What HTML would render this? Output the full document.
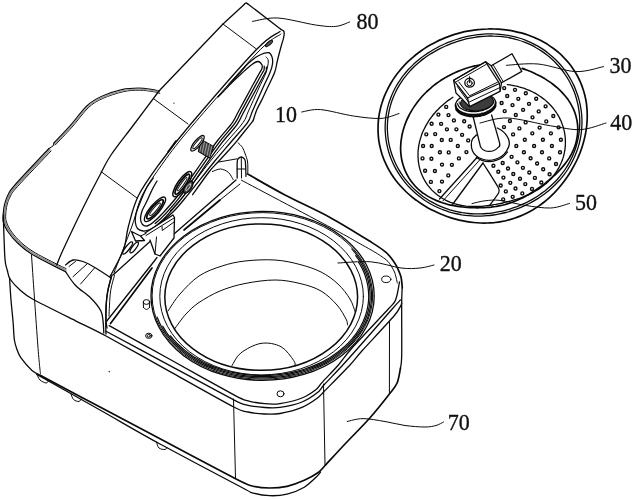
<!DOCTYPE html>
<html><head><meta charset="utf-8"><title>Figure</title>
<style>html,body{margin:0;padding:0;background:#fff}svg{display:block}</style></head>
<body><svg style="will-change:transform;filter:grayscale(1)" width="635" height="500" viewBox="0 0 635 500" font-family="'Liberation Serif', serif">
<rect width="635" height="500" fill="#fff"/>
<g fill="none" stroke="#0a0a0a" stroke-linecap="round" stroke-linejoin="round">
<text transform="translate(356.4 28.8) scale(1 1.085)" font-size="22" stroke="#111" stroke-width="0.35" fill="#111">80</text>
<text transform="translate(275 121.6) scale(1 1.085)" font-size="22" stroke="#111" stroke-width="0.35" fill="#111">10</text>
<text transform="translate(609.5 72.5) scale(1 1.085)" font-size="22" stroke="#111" stroke-width="0.35" fill="#111">30</text>
<text transform="translate(610.2 130.4) scale(1 1.085)" font-size="22" stroke="#111" stroke-width="0.35" fill="#111">40</text>
<text transform="translate(575 210) scale(1 1.085)" font-size="22" stroke="#111" stroke-width="0.35" fill="#111">50</text>
<text transform="translate(439.7 270.7) scale(1 1.085)" font-size="22" stroke="#111" stroke-width="0.35" fill="#111">20</text>
<text transform="translate(447.8 429.7) scale(1 1.085)" font-size="22" stroke="#111" stroke-width="0.35" fill="#111">70</text>
<path d="M158.6 91.4C157.6 91.1 156 90.2 152.6 89.7C149.2 89.2 143.4 88.2 138.3 88.2C133.2 88.2 128.1 88.3 121.9 89.7C115.8 91.1 107.2 93.8 101.4 96.5C95.6 99.2 92.2 100.9 87.1 105.7C82 110.5 76.2 119 70.7 125.2C65.2 131.4 56.8 140 54 143" stroke-width="1.3"/>
<path d="M159.8 93.4C158.8 93.1 157.2 92.2 153.8 91.7C150.4 91.2 144.6 90.2 139.5 90.2C134.4 90.2 129.2 90.3 123.1 91.7C117 93.1 108.4 95.8 102.6 98.5C96.8 101.2 93.4 102.9 88.3 107.7C83.2 112.5 77.4 121 71.9 127.2C66.4 133.4 58 142 55.2 145" stroke-width="1"/>
<path d="M159.2 92.4C158.2 92.1 156.6 91.2 153.2 90.7C149.8 90.2 144 89.2 138.9 89.2C133.8 89.2 128.7 89.3 122.5 90.7C116.3 92.1 107.8 94.8 102 97.5C96.2 100.2 92.8 101.9 87.7 106.7C82.6 111.5 76.8 120 71.3 126.2C65.8 132.4 57.4 141 54.6 144" stroke-width="1.4" stroke="#999"/>
<path d="M54 143L53 146L49 148.5" stroke-width="1"/>
<path d="M49 148.5C43.3 154.6 21.8 177.2 15 185C8.2 192.8 9.8 191.7 8 195C6.2 198.3 5.3 201.7 4.5 205C3.7 208.3 3.4 212.2 3.2 215C3 217.8 2.7 219.3 3.4 222C4.1 224.7 5.1 227.5 7.5 231C9.9 234.5 13.6 239.2 17.6 243C21.6 246.8 25.2 250.1 31.5 254C37.8 257.9 49.7 263.7 55.4 266.6C61.1 269.5 63.8 270.8 65.5 271.6" stroke-width="1.3"/>
<path d="M51 151C45.4 156.9 24.2 179 17.5 186.5C10.8 194 12.2 192.9 10.5 196C8.8 199.1 7.8 201.8 7 205C6.2 208.2 5.8 212.3 5.7 215C5.6 217.7 5.5 218.6 6.2 221C6.9 223.4 7.9 226.2 10 229.5C12.1 232.8 15.2 236.8 19 240.5C22.8 244.2 26.8 247.6 33 251.5C39.2 255.4 51 261.2 56.5 264C62 266.8 64.4 267.8 66 268.5" stroke-width="1"/>
<path d="M50 149.8C44.4 155.8 23 178.1 16.2 185.8C9.5 193.4 11 192.3 9.2 195.5C7.5 198.7 6.5 201.8 5.8 205C5 208.2 4.6 212.2 4.5 215C4.3 217.8 4.1 219 4.8 221.5C5.5 224 6.5 226.9 8.8 230.2C11 233.6 14.4 238 18.3 241.8C22.2 245.5 26 248.8 32.2 252.8C38.5 256.7 50.4 262.4 56 265.3C61.5 268.2 64.1 269.3 65.8 270.1" stroke-width="1.6" stroke="#888"/>
<path d="M3.4 215C3.4 216.7 3.5 220.5 3.6 225C3.7 229.5 4 237 4.2 242C4.4 247 4.5 251.3 4.7 255C4.9 258.7 5.1 261.3 5.6 264C6.1 266.7 7.2 269.8 7.5 271" stroke-width="1.3"/>
<path d="M9.6 278C9.8 281.7 10.4 292.8 11 300C11.6 307.2 12.4 314.3 13 321C13.6 327.7 13.7 335.2 14.4 340C15.1 344.8 15.9 346.6 17 349.5C18.1 352.4 18.3 354.1 20.8 357.6C23.3 361.1 28.5 367.3 32 370.4C35.5 373.5 40 375.1 41.6 376" stroke-width="1.3"/>
<path d="M41.6 376C50.4 380.6 82.2 397.6 100 407C117.8 416.4 139.7 427.9 160 438.7C180.3 449.5 221.8 471.7 235.6 478.8C249.4 485.9 247.2 484.6 252.3 486C257.4 487.4 264.5 488 269.7 488C274.9 488 281.8 487.5 287 486.3C292.2 485.1 299.6 482.4 304.3 480.3C309 478.2 315.1 474.7 318.2 472.5C321.3 470.3 321.1 469.8 325.1 465.5C329.1 461.2 338.3 451.1 345 444C351.7 436.9 362.9 425.7 369.6 418.2C376.3 410.7 385.3 399.3 389.4 394C393.5 388.7 395.4 386.9 397.1 383C398.8 379.1 400 370.2 400.5 368" stroke-width="1.7"/>
<path d="M400.5 368C400.7 365.8 401.5 365.8 401.7 355C401.9 344.2 401.6 314.2 401.7 303C401.8 291.8 402.1 290.5 402.2 288" stroke-width="1.3"/>
<path d="M36.8 374.4C46.3 379.7 81.5 399.6 100 410C118.5 420.4 138.7 432.4 160 444C181.3 455.6 228.1 480.2 241.9 487.5C255.7 494.8 248.1 491.6 252.3 492.8C256.5 494 264.5 495.5 269.7 495.7C274.9 495.9 281.8 495.4 287 494.1C292.2 492.8 299.9 489.8 304.3 487.2C308.7 484.6 314.1 479.1 316.5 476.8C318.9 474.5 319.9 472.7 320.5 472" stroke-width="1.3"/>
<path d="M31.5 255C32.5 270 36.3 325.2 37.8 345C39.3 364.8 40 369.2 40.5 374" stroke-width="1"/>
<path d="M233.5 399L235.5 478" stroke-width="1"/>
<path d="M323.5 384L325 465" stroke-width="1"/>
<path d="M389.5 322L389.4 393" stroke-width="1"/>
<path d="M37 374.5C37.5 375.4 38.5 378.6 40 380C41.5 381.4 44.6 382.8 46 383C47.4 383.2 48.1 381.3 48.5 381" stroke-width="1"/>
<path d="M71 394C71.4 394.9 72.2 398.2 73.5 399.5C74.8 400.8 77.8 401.6 79 401.5C80.2 401.4 80.7 399.4 81 399" stroke-width="1"/>
<path d="M156.5 442C156.9 443 157.6 446.8 159 448C160.4 449.2 163.7 449.6 165 449.5C166.3 449.4 166.7 447.8 167 447.5" stroke-width="1"/>
<path d="M7.5 271C7.8 272.1 8.3 276.5 10 279C11.7 281.5 17 287.3 20 290C23 292.7 25.1 294.9 32.5 299C39.9 303.1 65.8 315.9 75.6 320.8C85.4 325.7 93.4 329.2 106 336C118.6 342.8 153 362.1 170 371.6C187 381.1 223.3 401.6 233.7 407C244.1 412.4 243.9 411.1 248 412C252.1 412.9 260.3 413.8 264.6 414C268.9 414.2 275 414.4 280 413.5C285 412.6 297 409.5 302 407.4C307 405.3 314.6 400.1 317.5 398C320.4 395.9 319.8 395.9 324.1 391.5C328.4 387.1 344.9 370.5 350 365C355.1 359.5 356.4 357 362.3 350.5C368.2 344 388.9 321.9 394 316C399.1 310.1 399.4 308.1 400.4 306.4C401.4 304.7 401.5 303.5 401.7 303" stroke-width="1.3"/>
<path d="M65.5 271.6C67.2 273.9 71.4 281.1 75.6 285.5C79.8 289.9 86.5 293.8 90.7 298C94.9 302.2 98.8 306.9 100.8 310.7C102.8 314.5 102.5 317.1 103 320.8C103.5 324.5 103.7 331 103.8 333" stroke-width="1.3"/>
<path d="M65.5 265C66.8 264.2 70.1 260.6 73 260C75.9 259.4 79.2 260.2 83 261.5C86.8 262.8 91 265.2 95.7 268C100.4 270.8 108.5 276.3 111 278" stroke-width="1.3"/>
<path d="M69 266.5L75.5 261.5" stroke-width="1"/>
<path d="M73 276.7L87 264" stroke-width="1"/>
<path d="M80.6 284L94.5 268" stroke-width="1"/>
<path d="M111 278C110.3 280.9 107.9 288.5 107 295.6C106.1 302.7 106 314.4 105.8 320.8C105.6 327.2 106 331.8 106 334" stroke-width="1.3"/>
<path d="M109.2 325.6C117.6 330.3 155.3 351.2 172 360.5C188.7 369.8 224.7 390 234.8 395.4C244.9 400.8 244 399.8 248 400.9C252 402 260.3 403.3 264.6 403.7C268.9 404.1 275 404.4 280 403.6C285 402.8 297.1 399.9 302 398C306.9 396.1 313.7 391.4 316.4 389.3C319.1 387.2 319 385.8 321.9 382.6C324.8 379.4 334.4 369.6 338.4 365C342.4 360.4 345.3 355.5 352 348C358.7 340.5 382.6 315.2 388.3 309C394 302.8 393.6 303.7 394.8 301.6C396 299.5 396.8 296 397.4 293.4C398 290.8 399.2 283.5 399.5 282" stroke-width="1.3"/>
<path d="M106 331.2C114.5 335.8 153 356.5 170 365.6C187 374.7 223.3 394.5 233.7 399.8C244.1 405.1 243.9 404.3 248 405.3C252.1 406.3 260.3 407.2 264.6 407.5C268.9 407.8 275 408.1 280 407.4C285 406.7 297 404 302 402C307 400 314.6 394.9 317.5 392.6C320.4 390.3 320.7 388.5 324.1 384.8C327.5 381.1 338.6 369.6 342.8 365C347 360.4 349.2 358 355.8 350.5C362.4 343 386.3 315.7 392.2 309C398.1 302.3 399.3 301.2 400.4 300" stroke-width="1.3"/>
<path d="M247.6 174C253.8 177.5 271.3 187.8 285 195C298.7 202.2 315.5 209.5 330 217.4C344.5 225.3 362.7 236.8 372 242.6C381.3 248.4 382.5 249.4 386 252.4C389.5 255.4 391.1 257.9 393 260.5C394.9 263.1 396.2 265.2 397.5 268C398.8 270.8 400.2 273.7 401 277C401.8 280.3 402.1 286.2 402.3 288" stroke-width="1.7"/>
<path d="M241.4 180.2C252.3 186 321.4 222.5 335 229.8C348.6 237.1 353 239.8 358 242.6C363 245.4 374.1 251.6 377.6 253.8C381.1 256 386 259.4 388 261.5C390 263.6 393.4 269.5 394.5 272C395.6 274.5 397 281.7 397.3 283" stroke-width="1"/>
<ellipse cx="262.6" cy="295.9" rx="111.6" ry="84.5" transform="rotate(0 262.6 295.9)" stroke-width="1.3"/>
<ellipse cx="261.6" cy="296.3" rx="101.8" ry="78.6" transform="rotate(0 261.6 296.3)" stroke-width="1"/>
<ellipse cx="261.2" cy="297.1" rx="96.4" ry="73.2" transform="rotate(0 261.2 297.1)" stroke-width="1.5"/>
<ellipse cx="262.4" cy="295.9" rx="110.3" ry="83.3" transform="rotate(0 262.4 295.9)" stroke-width="1"/>
<path d="M358.7 262.4C359.3 263.3 360.9 266.1 361.9 268C362.8 269.9 363.7 271.8 364.5 273.7C365.2 275.7 365.9 277.6 366.4 279.6C367 281.6 367.4 283.6 367.8 285.6C368.1 287.6 368.4 289.6 368.5 291.7C368.7 293.7 368.7 295.7 368.7 297.7C368.6 299.8 368.5 301.8 368.2 303.8C367.9 305.8 367.6 307.8 367.1 309.8C366.6 311.8 366 313.8 365.4 315.8C364.7 317.7 363.9 319.7 363.1 321.6C362.2 323.5 361.2 325.4 360.2 327.3C359.1 329.1 357.9 331 356.7 332.8C355.5 334.6 354.1 336.3 352.7 338C351.3 339.8 349.7 341.4 348.1 343.1C346.5 344.7 344.9 346.3 343.1 347.8C341.3 349.4 339.5 350.9 337.6 352.3C335.7 353.7 333.7 355.1 331.6 356.4C329.6 357.7 327.5 359 325.3 360.2C323.1 361.4 320.9 362.5 318.6 363.6C316.3 364.7 313.9 365.7 311.5 366.6C309.1 367.5 306.7 368.4 304.2 369.2C301.7 370 299.2 370.7 296.6 371.4C294.1 372 291.5 372.6 288.9 373.1C286.3 373.6 283.6 374 280.9 374.4C278.3 374.7 275.6 375 272.9 375.2C270.2 375.4 267.5 375.5 264.8 375.6C262.1 375.6 259.4 375.6 256.7 375.5C254 375.4 251.3 375.2 248.6 374.9C246 374.7 243.3 374.3 240.6 373.9C238 373.5 235.4 373 232.8 372.4C230.2 371.9 227.6 371.2 225.1 370.5C222.6 369.8 220.1 369 217.6 368.1C215.2 367.3 212.8 366.4 210.4 365.4C208.1 364.4 205.7 363.3 203.5 362.2C201.3 361.1 199.1 359.9 196.9 358.6C194.8 357.4 192.7 356.1 190.8 354.7C188.8 353.3 186.8 351.9 185 350.4C183.1 348.9 181.4 347.4 179.7 345.8C178 344.2 176.4 342.6 174.8 340.9C173.3 339.3 171.2 336.7 170.5 335.8" stroke-width="1.2"/>
<path d="M355.7 255.7C356.4 256.6 358.5 259.5 359.8 261.5C361 263.5 362.2 265.5 363.2 267.6C364.3 269.7 365.2 271.8 366 273.9C366.8 276 367.5 278.2 368.1 280.3C368.6 282.5 369.1 284.7 369.4 286.9C369.7 289.1 370 291.3 370 293.5C370.1 295.7 370.1 297.9 370 300.1C369.8 302.3 369.5 304.5 369.2 306.7C368.8 308.9 368.3 311 367.6 313.2C367 315.3 366.3 317.5 365.4 319.6C364.5 321.7 363.6 323.8 362.5 325.8C361.4 327.9 360.2 329.9 358.9 331.9C357.6 333.9 356.2 335.8 354.6 337.7C353.1 339.6 351.5 341.4 349.8 343.2C348.1 345 346.2 346.7 344.3 348.4C342.4 350.1 340.4 351.7 338.3 353.3C336.2 354.8 334.1 356.3 331.8 357.7C329.6 359.1 327.2 360.5 324.8 361.8C322.4 363.1 320 364.3 317.4 365.4C314.9 366.5 312.3 367.6 309.7 368.5C307 369.5 304.3 370.4 301.6 371.2C298.8 372 296.1 372.7 293.2 373.3C290.4 374 287.6 374.5 284.7 375C281.8 375.4 278.9 375.8 276 376.1C273.1 376.3 270.1 376.5 267.2 376.6C264.3 376.7 261.3 376.7 258.4 376.6C255.4 376.6 252.5 376.4 249.6 376.1C246.7 375.9 243.7 375.5 240.9 375.1C238 374.6 235.1 374.1 232.3 373.5C229.5 372.8 226.7 372.1 223.9 371.3C221.2 370.6 218.5 369.7 215.8 368.7C213.2 367.8 210.6 366.7 208.1 365.6C205.5 364.5 203 363.3 200.6 362C198.2 360.8 195.9 359.4 193.6 358C191.4 356.6 189.2 355.1 187.1 353.6C185 352 183 350.4 181 348.7C179.1 347.1 177.3 345.3 175.6 343.5C173.8 341.8 172.2 339.9 170.7 338C169.1 336.2 167.7 334.2 166.4 332.3C165.1 330.3 163.3 327.2 162.7 326.2" stroke-width="1.2"/>
<path d="M351.8 249C352.6 250 355.3 253 356.9 255.1C358.5 257.1 359.9 259.2 361.3 261.4C362.6 263.5 363.8 265.8 364.9 268C366 270.2 367 272.5 367.8 274.8C368.6 277.1 369.3 279.4 369.8 281.8C370.4 284.1 370.8 286.5 371.1 288.9C371.4 291.2 371.5 293.6 371.5 296C371.5 298.4 371.4 300.8 371.1 303.1C370.8 305.5 370.4 307.9 369.8 310.2C369.3 312.6 368.6 314.9 367.8 317.2C367 319.5 366 321.8 364.9 324C363.8 326.2 362.6 328.5 361.3 330.6C359.9 332.8 358.5 334.9 356.9 336.9C355.3 339 353.6 341 351.8 343C350 344.9 348 346.8 346 348.6C344 350.5 341.8 352.2 339.6 353.9C337.3 355.6 335 357.2 332.6 358.7C330.1 360.3 327.6 361.7 325 363.1C322.4 364.5 319.7 365.7 317 366.9C314.3 368.1 311.4 369.2 308.6 370.2C305.7 371.2 302.8 372.1 299.8 373C296.8 373.8 293.8 374.5 290.7 375.1C287.7 375.7 284.5 376.2 281.4 376.7C278.3 377.1 275.2 377.4 272 377.6C268.8 377.8 265.7 377.9 262.5 377.9C259.3 377.9 256.2 377.8 253 377.6C249.8 377.4 246.7 377.1 243.6 376.7C240.5 376.2 237.3 375.7 234.3 375.1C231.2 374.5 228.2 373.8 225.2 373C222.2 372.1 219.3 371.2 216.4 370.2C213.6 369.2 210.7 368.1 208 366.9C205.3 365.7 202.6 364.5 200 363.1C197.4 361.7 194.9 360.3 192.4 358.7C190 357.2 187.7 355.6 185.4 353.9C183.2 352.2 181 350.5 179 348.6C177 346.8 175 344.9 173.2 343C171.4 341 169.7 339 168.1 336.9C166.5 334.9 165.1 332.8 163.7 330.6C162.4 328.5 161.2 326.2 160.1 324C159 321.8 157.7 318.3 157.2 317.2" stroke-width="1.2"/>
<path d="M168 311C170 308.2 174.8 299.8 180 294C185.2 288.2 192 280.7 199 276C206 271.3 214.3 268.5 222 266C229.7 263.5 236.2 262 245 261C253.8 260 265.8 259.4 275 260C284.2 260.6 292.3 262.5 300 264.5C307.7 266.5 314.7 268.8 321 272C327.3 275.2 333.2 279.5 338 284C342.8 288.5 347.2 294.4 350 299C352.8 303.6 354.2 309.4 355 311.5" stroke-width="1"/>
<path d="M174.5 329C176.4 326.5 181.9 318.4 186 314C190.1 309.6 193.3 306.3 199 302.5C204.7 298.7 212.3 294.2 220 291C227.7 287.8 235.8 285.3 245 283.5C254.2 281.7 265.8 280 275 280C284.2 280 292.3 281.7 300 283.5C307.7 285.3 314.8 287.4 321 291C327.2 294.6 332.8 300.3 337 305C341.2 309.7 344.2 315.7 346 319C347.8 322.3 347.2 324 347.5 325" stroke-width="1"/>
<path d="M232 365.6C233.5 363.5 236 356.7 240.8 353C245.6 349.3 254.3 344.4 261 343.4C267.7 342.3 275.6 343.8 281 346.7C286.4 349.6 291.4 357.3 293.7 360.5C296 363.7 294.8 365.1 295 366" stroke-width="1"/>
<ellipse cx="386.3" cy="279.3" rx="4.6" ry="3.3" transform="rotate(0 386.3 279.3)" stroke-width="1"/>
<ellipse cx="280.5" cy="393.8" rx="3.5" ry="3" transform="rotate(0 280.5 393.8)" stroke-width="1"/>
<ellipse cx="148.8" cy="335.8" rx="3.2" ry="2.6" transform="rotate(0 148.8 335.8)" stroke-width="1"/>
<ellipse cx="148.8" cy="335.8" rx="1.6" ry="1.3" transform="rotate(0 148.8 335.8)" stroke-width="1"/>
<ellipse cx="146.5" cy="302" rx="3.2" ry="2.4" transform="rotate(0 146.5 302)" stroke-width="1"/>
<path d="M143.3 302L143.5 307.5" stroke-width="1"/>
<path d="M149.7 302L149.5 307.5" stroke-width="1"/>
<path d="M143.5 307.5C144 307.8 145.5 309.5 146.5 309.5C147.5 309.5 149 307.8 149.5 307.5" stroke-width="1"/>
<path d="M244.2 4.4C244.1 4.5 223.3 23.7 223 24C222.7 24.3 159.2 90.8 159 91" stroke-width="1.3"/>
<path d="M244.2 4.4C244.4 4.2 244.8 3.5 245.2 3.3C245.5 3.1 245.9 2.9 246.3 3C246.7 3.1 247.4 3.7 247.6 3.8" stroke-width="1.3"/>
<path d="M159 91C154.8 96.7 141.5 114.3 133.5 125C125.5 135.7 116.4 147 111 155C105.6 163 105.7 164.2 101 173C96.3 181.8 89.3 195.2 83 208C76.7 220.8 67.4 240.5 63 250C58.6 259.5 57.8 262.5 56.7 265" stroke-width="1.3"/>
<path d="M247.6 3.8L281.1 29.4" stroke-width="1.3"/>
<path d="M281.1 29.4C281.5 29.7 283.1 30.4 283.6 31C284.1 31.6 284.2 31.9 284.2 33C284.2 34.1 284.1 35.8 283.6 37.8C283.2 39.8 282.6 41 281.5 45C280.4 49 278.3 56.9 277.2 61.5C276.1 66.1 276.3 68 274.6 72.6C272.9 77.2 268.9 84.7 266.9 89C264.9 93.3 264.1 95.1 262.5 98.5C260.9 101.9 258.6 105.6 257 109.3C255.4 113 253.7 119 253 120.9" stroke-width="1.3"/>
<path d="M253 120.9C251.6 122.7 247.2 128.2 244.5 131.5C241.8 134.8 239.5 137.8 237 140.8C234.5 143.8 232.5 146.2 229.3 149.7C226.1 153.2 221.4 158.3 218 162C214.6 165.7 213.2 166.6 209 172C204.8 177.4 195.3 190.9 192.6 194.7" stroke-width="1.3"/>
<path d="M223 24L256.4 49" stroke-width="1"/>
<path d="M154 99L188 124" stroke-width="1"/>
<path d="M101 171.6L137 198" stroke-width="1"/>
<path d="M280 31.5C276 34.6 271 34.4 256 50C241 65.6 206 106.2 190 125C174 143.8 168.6 151.2 160 163C151.4 174.8 143.8 185 138.5 195.5C133.2 206 131 216.9 128.5 226C126 235.1 126.5 241.6 123.4 250C120.3 258.4 112.2 272.2 110 276.6" stroke-width="1.3"/>
<path d="M281 34C277.2 37 272.7 36.8 258 52C243.3 67.2 208.8 106.5 193 125C177.2 143.5 171.4 151.3 163 163C154.6 174.7 147.6 184.5 142.4 195C137.2 205.5 136.7 213 132 226C127.3 239 117 265 114 272.8" stroke-width="1"/>
<ellipse cx="269" cy="43.5" rx="4.4" ry="1.6" transform="rotate(-40 269 43.5)" stroke-width="1" fill="#555"/>
<path d="M229 84.5C230.9 82.4 237.3 75.6 240.6 72C243.9 68.4 245.7 65.7 248.6 63C251.5 60.3 254.7 57.7 258 56C261.3 54.3 266.2 52.5 268.5 52.7C270.8 52.9 271.3 55.1 272 57C272.7 58.9 272.8 61.4 272.5 64C272.2 66.6 271.7 68.4 270 72.6C268.3 76.8 265.3 82.6 262.4 89C259.5 95.4 255 105.4 252.5 111C250 116.6 251.1 117.4 247.5 122.6C243.9 127.8 236.6 135.4 231 142C225.4 148.6 221.2 153.2 214 162C206.8 170.8 194.8 186.4 188 194.7C181.2 202.9 178.5 206.5 173.5 211.5C168.5 216.5 161.9 221.5 158 224.5C154.1 227.5 152.5 228.4 150 229.5C147.5 230.6 145.1 231.2 143 231C140.9 230.8 138.8 230 137.5 228.5C136.2 227 135.6 224.4 135.3 222C135.1 219.6 135.3 217 136 214C136.7 211 137.8 208.3 139.5 204C141.2 199.7 144.2 192.3 146.5 188C148.8 183.7 152.2 179.7 153.3 178" stroke-width="1.3"/>
<path d="M218 97C220.2 94.8 227.1 87.4 231 83.5C234.9 79.6 238.1 76.7 241.5 73.6C244.9 70.5 248.8 66.7 251.6 64.7C254.3 62.7 256.3 61.5 258 61.5C259.7 61.5 261.4 63.8 262 65C262.6 66.2 262.2 67.7 261.8 69C261.4 70.3 261.6 69.3 259.7 72.6C257.8 75.9 254.2 82.6 250.7 89C247.2 95.4 241.8 105.4 238.7 111C235.6 116.6 235.8 117.8 232.4 122.6C229 127.4 223.1 133.4 218 140C212.9 146.6 206.3 155.9 202 162C197.7 168.1 196.3 170.4 192 176.4C187.7 182.4 181 191.7 176 198C171 204.3 165.8 209.9 162 214C158.2 218.1 155.5 220.5 153 222.5C150.5 224.5 148.8 225.7 147 226C145.2 226.3 143.6 225.7 142.5 224.5C141.4 223.3 140.6 221.2 140.5 219C140.4 216.8 141.1 213.7 142 211C142.9 208.3 144.3 206.5 146 203C147.7 199.5 150.2 193.7 152 190C153.8 186.3 156.2 182.5 157 181" stroke-width="1.3"/>
<path d="M264.2 66.1C264.2 66.8 264.4 68.8 264 70.1C263.6 71.4 263.8 70.4 261.9 73.7C260 77 256.4 83.7 252.9 90.1C249.4 96.5 243.9 106.5 240.9 112.1C237.8 117.7 238 118.9 234.6 123.7C231.2 128.5 225.3 134.5 220.2 141.1C215.1 147.7 208.5 157 204.2 163.1C199.9 169.2 198.5 171.5 194.2 177.5C189.9 183.5 183.2 192.8 178.2 199.1C173.2 205.4 168 211 164.2 215.1C160.4 219.2 156.7 222.2 155.2 223.6" stroke-width="1.3"/>
<path d="M266.4 67.2C266.4 67.9 266.6 69.9 266.2 71.2C265.8 72.5 265.9 71.5 264.1 74.8C262.2 78.1 258.6 84.8 255.1 91.2C251.6 97.6 246.1 107.6 243.1 113.2C240.1 118.8 240.2 120 236.8 124.8C233.4 129.6 227.5 135.6 222.4 142.2C217.3 148.8 210.7 158.1 206.4 164.2C202.1 170.3 200.7 172.6 196.4 178.6C192.1 184.6 185.4 193.9 180.4 200.2C175.4 206.5 170.2 212.1 166.4 216.2C162.6 220.3 158.9 223.3 157.4 224.7" stroke-width="1.3"/>
<path d="M266 57C266.4 57.7 268.3 58.4 268.3 61C268.3 63.6 267.6 67.9 266 72.6C264.4 77.3 261.3 82.6 258.4 89C255.5 95.4 251.1 105.4 248.5 111C245.9 116.6 246.7 117.4 243 122.6C239.3 127.8 232.1 135.4 226.5 142C220.9 148.6 216.6 153.3 209.7 162C202.8 170.7 191.6 185.8 185 194C178.4 202.2 172.5 208.2 170 211" stroke-width="1"/>
<path d="M586.8 125C586.6 127.4 586.2 129.8 585.8 132.1C585.4 134.5 584.9 136.8 584.3 139.1C583.8 141.4 583.1 143.7 582.4 145.9C581.7 148.2 580.9 150.4 580.1 152.6C579.2 154.7 578.3 156.9 577.4 159C576.4 161.1 575.4 163.2 574.3 165.2C573.2 167.2 572.1 169.2 570.9 171.2C569.7 173.2 568.5 175.1 567.2 177C565.9 178.9 564.6 180.7 563.2 182.5C561.8 184.3 560.4 186.1 558.9 187.8C557.4 189.6 555.9 191.2 554.3 192.9C552.7 194.5 551.1 196.1 549.4 197.6C547.7 199.1 546 200.6 544.2 202C542.4 203.4 540.6 204.8 538.7 206.1C536.8 207.4 534.9 208.6 533 209.8C531 211 529 212.1 527 213.1C524.9 214.1 522.8 215.1 520.7 215.9C518.6 216.8 516.5 217.6 514.3 218.3C512.2 219 510 219.7 507.7 220.2C505.5 220.8 503.3 221.2 501 221.6C498.8 222 496.5 222.3 494.3 222.6C492 222.8 489.7 223 487.4 223C485.1 223.1 482.9 223.1 480.6 223C478.3 222.9 476 222.8 473.7 222.5C471.5 222.3 469.2 222 467 221.6C464.7 221.3 462.5 220.8 460.2 220.3C458 219.8 455.8 219.2 453.6 218.6C451.4 218 449.2 217.3 447 216.5C444.9 215.7 442.7 214.9 440.6 214C438.5 213.1 436.4 212.2 434.3 211.1C432.2 210.1 430.1 209 428.1 207.9C426.1 206.7 424 205.5 422.1 204.3C420.1 203 418.1 201.7 416.2 200.2C414.3 198.8 412.5 197.4 410.7 195.8C408.8 194.3 407 192.7 405.3 191C403.6 189.3 401.9 187.6 400.3 185.8C398.7 184 397.2 182.1 395.7 180.2C394.2 178.2 392.8 176.2 391.5 174.2C390.2 172.1 388.9 170 387.8 167.8C386.7 165.7 385.6 163.4 384.6 161.2C383.7 158.9 382.8 156.6 382 154.2C381.3 151.9 380.6 149.5 380.1 147.1C379.5 144.7 379.1 142.2 378.7 139.8C378.4 137.3 378.2 134.9 378.1 132.4C378 129.9 378 127.5 378.1 125C378.2 122.5 378.4 120.1 378.7 117.6C379 115.2 379.5 112.8 380 110.4C380.5 108 381.1 105.6 381.9 103.3C382.6 101 383.4 98.7 384.3 96.4C385.2 94.2 386.2 91.9 387.3 89.8C388.3 87.6 389.5 85.5 390.7 83.5C391.9 81.4 393.2 79.4 394.5 77.4C395.9 75.5 397.3 73.6 398.8 71.8C400.3 69.9 401.8 68.1 403.4 66.4C404.9 64.7 406.6 63 408.2 61.4C409.9 59.8 411.6 58.3 413.4 56.8C415.1 55.3 416.9 53.9 418.8 52.5C420.6 51.2 422.5 49.9 424.3 48.6C426.2 47.4 428.2 46.2 430.1 45.1C432 44 434 42.9 436 41.9C438 40.9 440 39.9 442.1 39.1C444.1 38.2 446.2 37.3 448.3 36.6C450.4 35.8 452.5 35.1 454.6 34.4C456.7 33.8 458.8 33.2 461 32.6C463.1 32.1 465.3 31.6 467.5 31.2C469.6 30.8 471.8 30.4 474 30.1C476.2 29.8 478.4 29.5 480.7 29.4C482.9 29.2 485.1 29 487.4 29C489.6 28.9 491.8 28.9 494.1 29C496.3 29 498.6 29.2 500.9 29.3C503.1 29.5 505.4 29.8 507.7 30.1C509.9 30.4 512.2 30.8 514.4 31.3C516.7 31.8 519 32.3 521.2 32.9C523.4 33.5 525.7 34.2 527.9 35C530.1 35.8 532.3 36.6 534.5 37.6C536.7 38.5 538.8 39.5 540.9 40.6C543 41.7 545.1 42.9 547.2 44.1C549.2 45.4 551.2 46.8 553.2 48.2C555.1 49.6 557 51.1 558.8 52.7C560.7 54.3 562.4 56 564.1 57.8C565.8 59.5 567.5 61.4 569 63.3C570.5 65.2 572 67.1 573.3 69.2C574.7 71.2 576 73.3 577.2 75.5C578.3 77.6 579.4 79.8 580.4 82.1C581.4 84.3 582.2 86.6 583 89C583.8 91.3 584.4 93.7 585 96C585.6 98.4 586 100.8 586.4 103.2C586.7 105.7 586.9 108.1 587.1 110.5C587.2 112.9 587.3 115.4 587.2 117.8C587.2 120.2 587 122.6 586.8 125Z" stroke-width="1.7"/>
<path d="M581.9 125C581.8 127.3 581.7 129.6 581.4 131.8C581.2 134.1 580.8 136.3 580.4 138.5C579.9 140.8 579.4 143 578.8 145.1C578.2 147.3 577.5 149.5 576.7 151.6C575.9 153.7 575.1 155.8 574.1 157.8C573.2 159.8 572.2 161.8 571.1 163.8C570.1 165.7 568.9 167.6 567.7 169.5C566.5 171.3 565.2 173.2 563.9 174.9C562.5 176.7 561.1 178.3 559.7 180C558.2 181.6 556.7 183.2 555.2 184.7C553.7 186.3 552.1 187.7 550.4 189.2C548.8 190.6 547.1 191.9 545.4 193.2C543.7 194.5 542 195.8 540.2 197C538.5 198.2 536.7 199.3 534.8 200.4C533 201.5 531.2 202.5 529.3 203.5C527.4 204.4 525.5 205.3 523.6 206.2C521.7 207.1 519.7 207.9 517.8 208.6C515.8 209.4 513.8 210.1 511.9 210.7C509.9 211.4 507.8 212 505.8 212.5C503.8 213 501.7 213.5 499.7 213.9C497.6 214.3 495.5 214.7 493.5 215C491.4 215.3 489.3 215.6 487.2 215.7C485.1 215.9 482.9 216 480.8 216.1C478.7 216.1 476.6 216.1 474.4 216.1C472.3 216 470.2 215.8 468 215.6C465.9 215.4 463.7 215.1 461.6 214.8C459.5 214.4 457.4 214 455.2 213.5C453.1 213 451 212.4 448.9 211.8C446.8 211.1 444.8 210.4 442.7 209.6C440.7 208.8 438.6 208 436.6 207C434.6 206.1 432.7 205.1 430.7 204C428.8 202.9 426.9 201.7 425 200.5C423.2 199.2 421.3 197.9 419.6 196.6C417.8 195.2 416.1 193.7 414.4 192.2C412.7 190.7 411.1 189.1 409.5 187.5C407.9 185.9 406.4 184.2 405 182.4C403.6 180.6 402.2 178.8 400.9 176.9C399.6 175.1 398.3 173.1 397.2 171.2C396 169.2 394.9 167.2 393.9 165.1C392.9 163.1 392 160.9 391.1 158.8C390.3 156.7 389.5 154.5 388.8 152.3C388.2 150.1 387.6 147.8 387.1 145.6C386.6 143.3 386.2 141.1 385.9 138.8C385.6 136.5 385.4 134.2 385.3 131.9C385.1 129.6 385.1 127.3 385.2 125C385.3 122.7 385.4 120.4 385.7 118.1C386 115.8 386.3 113.6 386.8 111.3C387.2 109.1 387.8 106.9 388.4 104.7C389 102.5 389.8 100.3 390.6 98.2C391.4 96.1 392.2 94 393.2 92C394.2 89.9 395.2 87.9 396.3 86C397.4 84 398.6 82.1 399.9 80.3C401.1 78.4 402.4 76.6 403.8 74.9C405.2 73.1 406.6 71.5 408.1 69.8C409.6 68.2 411.1 66.6 412.7 65.1C414.2 63.6 415.8 62.2 417.5 60.8C419.1 59.4 420.8 58 422.6 56.8C424.3 55.5 426 54.3 427.8 53.1C429.6 51.9 431.4 50.8 433.2 49.7C435.1 48.7 436.9 47.7 438.8 46.7C440.7 45.8 442.6 44.8 444.5 44C446.4 43.1 448.3 42.3 450.3 41.6C452.3 40.8 454.2 40.1 456.2 39.5C458.2 38.9 460.2 38.3 462.2 37.7C464.3 37.2 466.3 36.7 468.4 36.2C470.4 35.8 472.5 35.4 474.6 35.1C476.6 34.8 478.7 34.5 480.8 34.3C482.9 34.1 485.1 34 487.2 33.9C489.3 33.8 491.4 33.8 493.6 33.9C495.7 33.9 497.9 34.1 500 34.3C502.1 34.5 504.3 34.7 506.4 35.1C508.6 35.4 510.7 35.8 512.8 36.3C514.9 36.8 517.1 37.4 519.1 38C521.2 38.6 523.3 39.4 525.4 40.2C527.4 41 529.5 41.8 531.5 42.8C533.5 43.7 535.4 44.8 537.4 45.9C539.3 47 541.2 48.1 543.1 49.4C544.9 50.6 546.7 52 548.5 53.4C550.3 54.8 552 56.2 553.6 57.8C555.3 59.3 556.9 60.9 558.4 62.5C560 64.2 561.5 65.9 562.9 67.7C564.3 69.5 565.6 71.3 566.9 73.2C568.2 75.1 569.4 77 570.5 79C571.6 81 572.7 83 573.7 85.1C574.6 87.1 575.5 89.3 576.3 91.4C577.1 93.5 577.9 95.7 578.5 97.9C579.1 100.1 579.7 102.3 580.2 104.6C580.6 106.8 581 109.1 581.3 111.3C581.6 113.6 581.8 115.9 581.9 118.2C582 120.4 582 122.7 581.9 125Z" stroke-width="1.3"/>
<path d="M579.7 125C579.6 127.2 579.5 129.5 579.2 131.7C579 133.9 578.6 136.1 578.2 138.2C577.8 140.4 577.2 142.6 576.6 144.7C576 146.8 575.4 148.9 574.6 151C573.8 153 573 155.1 572.1 157.1C571.2 159 570.2 161 569.1 162.9C568.1 164.8 566.9 166.7 565.7 168.5C564.6 170.3 563.3 172 562 173.7C560.7 175.4 559.3 177.1 557.9 178.7C556.5 180.3 555 181.8 553.5 183.3C552 184.8 550.5 186.3 548.9 187.6C547.3 189 545.6 190.3 544 191.6C542.3 192.9 540.6 194.1 538.9 195.2C537.2 196.4 535.4 197.5 533.6 198.6C531.8 199.6 530 200.6 528.2 201.6C526.4 202.5 524.5 203.4 522.6 204.2C520.8 205.1 518.9 205.8 517 206.6C515 207.3 513.1 208 511.2 208.6C509.2 209.3 507.3 209.8 505.3 210.3C503.3 210.9 501.3 211.3 499.3 211.7C497.3 212.2 495.3 212.5 493.2 212.8C491.2 213.1 489.1 213.4 487.1 213.5C485 213.7 483 213.8 480.9 213.9C478.8 213.9 476.7 213.9 474.7 213.9C472.6 213.8 470.5 213.7 468.4 213.5C466.3 213.3 464.2 213 462.1 212.7C460.1 212.3 458 211.9 455.9 211.4C453.9 210.9 451.8 210.4 449.8 209.8C447.7 209.1 445.7 208.4 443.7 207.7C441.7 206.9 439.7 206 437.7 205.1C435.8 204.2 433.9 203.2 432 202.1C430.1 201.1 428.2 200 426.4 198.7C424.6 197.5 422.8 196.3 421 194.9C419.3 193.6 417.6 192.2 416 190.7C414.3 189.2 412.7 187.7 411.2 186.1C409.7 184.5 408.2 182.8 406.8 181.1C405.4 179.4 404 177.6 402.7 175.8C401.5 174 400.2 172.1 399.1 170.1C398 168.2 396.9 166.2 395.9 164.2C394.9 162.2 394 160.1 393.2 158.1C392.4 156 391.6 153.8 391 151.7C390.3 149.5 389.7 147.3 389.2 145.1C388.8 142.9 388.4 140.7 388.1 138.5C387.8 136.2 387.6 134 387.5 131.8C387.3 129.5 387.3 127.2 387.4 125C387.5 122.8 387.6 120.5 387.9 118.3C388.2 116.1 388.5 113.8 389 111.6C389.4 109.5 389.9 107.3 390.6 105.1C391.2 103 391.9 100.9 392.7 98.8C393.5 96.7 394.3 94.7 395.3 92.7C396.2 90.7 397.2 88.8 398.3 86.9C399.4 85 400.6 83.1 401.8 81.3C403 79.5 404.3 77.7 405.7 76.1C407 74.4 408.4 72.7 409.9 71.1C411.3 69.5 412.8 68 414.3 66.5C415.9 65.1 417.5 63.7 419.1 62.3C420.7 60.9 422.3 59.6 424 58.4C425.7 57.1 427.4 56 429.2 54.8C430.9 53.7 432.7 52.6 434.5 51.6C436.3 50.5 438.1 49.5 439.9 48.6C441.7 47.7 443.6 46.8 445.5 46C447.3 45.1 449.2 44.4 451.1 43.6C453 42.9 455 42.2 456.9 41.6C458.8 41 460.8 40.4 462.8 39.8C464.7 39.3 466.7 38.8 468.7 38.4C470.7 38 472.8 37.6 474.8 37.3C476.8 37 478.9 36.7 480.9 36.5C483 36.3 485 36.2 487.1 36.1C489.2 36 491.3 36 493.3 36.1C495.4 36.1 497.5 36.2 499.6 36.4C501.7 36.6 503.8 36.9 505.9 37.2C508 37.5 510.1 37.9 512.1 38.4C514.2 38.9 516.3 39.4 518.3 40C520.4 40.7 522.4 41.4 524.4 42.1C526.4 42.9 528.4 43.8 530.4 44.7C532.3 45.6 534.3 46.6 536.1 47.7C538 48.8 539.9 49.9 541.7 51.1C543.5 52.3 545.3 53.6 547 55C548.8 56.4 550.4 57.8 552.1 59.3C553.7 60.8 555.2 62.3 556.7 64C558.3 65.6 559.7 67.3 561.1 69C562.5 70.7 563.8 72.5 565 74.4C566.3 76.2 567.5 78.1 568.6 80C569.7 82 570.7 84 571.7 86C572.6 88 573.5 90.1 574.3 92.1C575.1 94.2 575.8 96.4 576.4 98.5C577 100.7 577.6 102.8 578 105C578.5 107.2 578.8 109.4 579.1 111.6C579.4 113.8 579.6 116.1 579.7 118.3C579.8 120.5 579.8 122.8 579.7 125Z" stroke-width="1.3"/>
<path d="M522.2 68.4C522.9 68.7 525.2 69.5 526.7 70C528.2 70.6 529.7 71.2 531.2 71.8C532.7 72.5 534.2 73.1 535.7 73.9C537.2 74.6 538.6 75.3 540.1 76.1C541.6 76.9 543.1 77.7 544.6 78.6C546 79.5 547.5 80.4 548.9 81.4C550.4 82.4 551.8 83.4 553.2 84.5C554.6 85.6 556 86.7 557.4 87.9C558.7 89.1 560 90.3 561.3 91.6C562.6 92.9 563.8 94.3 565 95.7C566.2 97.1 567.3 98.6 568.4 100.1C569.4 101.7 570.4 103.2 571.3 104.9C572.2 106.5 573.1 108.2 573.8 109.9C574.5 111.6 575.2 113.4 575.7 115.2C576.2 117 576.7 118.8 577 120.7C577.3 122.5 577.6 124.4 577.7 126.3C577.8 128.1 577.8 130 577.7 131.9C577.6 133.7 577.4 135.6 577.1 137.5C576.8 139.3 576.4 141.1 575.9 142.9C575.4 144.7 574.8 146.5 574.1 148.2C573.4 149.9 572.6 151.6 571.8 153.3C571 154.9 570 156.5 569.1 158.1C568.1 159.6 567.1 161.1 566 162.6C565 164 563.8 165.4 562.7 166.7C561.6 168.1 560.4 169.4 559.2 170.6C558 171.9 556.8 173.1 555.6 174.3C554.3 175.4 553.1 176.6 551.9 177.6C550.6 178.7 549.4 179.8 548.1 180.8C546.9 181.8 545.6 182.8 544.4 183.8C543.1 184.8 541.9 185.7 540.6 186.6C539.3 187.5 538.1 188.4 536.8 189.3C535.6 190.1 534.3 191 533 191.8C531.7 192.6 530.4 193.4 529.1 194.2C527.8 194.9 526.5 195.7 525.2 196.4C523.9 197.1 522.6 197.8 521.2 198.5C519.9 199.1 518.5 199.7 517.1 200.3C515.8 200.9 514.4 201.5 513 202C511.6 202.5 510.1 203 508.7 203.5C507.3 203.9 505.8 204.3 504.4 204.7C502.9 205.1 501.5 205.4 500 205.7C498.5 206 497 206.2 495.5 206.5C494 206.7 492.5 206.9 491 207.1C489.5 207.2 488 207.4 486.4 207.5C484.9 207.6 483.4 207.6 481.8 207.7C480.3 207.7 478.7 207.8 477.1 207.8C475.6 207.8 474 207.7 472.4 207.7C470.8 207.6 469.2 207.5 467.6 207.4C466 207.3 464.3 207.2 462.7 207C461 206.8 459.3 206.6 457.7 206.3C456 206.1 454.3 205.8 452.6 205.4C450.9 205.1 449.2 204.7 447.5 204.3C445.7 203.8 444 203.3 442.3 202.8C440.6 202.2 438.9 201.6 437.2 200.9C435.5 200.2 433.8 199.5 432.1 198.6C430.5 197.8 428.8 196.9 427.2 195.9C425.6 194.9 424.1 193.8 422.5 192.7C421 191.6 419.6 190.3 418.2 189.1C416.8 187.8 415.4 186.4 414.2 185C412.9 183.5 411.7 182 410.6 180.5C409.5 178.9 408.5 177.3 407.6 175.6C406.6 173.9 405.8 172.2 405 170.4C404.3 168.7 403.6 166.9 403.1 165C402.5 163.2 402.1 161.3 401.7 159.5C401.3 157.6 401.1 155.7 400.9 153.8C400.7 151.9 400.6 150 400.6 148.1C400.7 146.2 400.8 144.3 400.9 142.4C401.1 140.5 401.4 138.6 401.7 136.8C402 135 402.4 133.1 402.9 131.3C403.3 129.5 403.9 127.8 404.5 126C405.1 124.3 405.7 122.6 406.4 120.9C407.1 119.3 407.9 117.6 408.7 116C409.5 114.4 410.3 112.9 411.2 111.4C412.1 109.9 413 108.4 414 106.9C414.9 105.5 415.9 104.1 417 102.7C418 101.4 419 100 420.1 98.8C421.2 97.5 422.3 96.2 423.4 95C424.6 93.8 425.7 92.7 426.9 91.5C428.1 90.4 429.3 89.3 430.5 88.3C431.7 87.2 432.9 86.2 434.2 85.2C435.4 84.3 436.7 83.3 437.9 82.4C439.2 81.5 440.5 80.7 441.8 79.8C443.1 79 444.4 78.2 445.7 77.4C447 76.7 448.4 75.9 449.7 75.2C451 74.5 452.4 73.8 453.7 73.2C455.1 72.6 456.5 71.9 457.8 71.4C459.2 70.8 460.6 70.2 462 69.7C463.4 69.2 464.8 68.7 466.2 68.2C467.6 67.8 469 67.4 470.5 67C471.9 66.6 473.3 66.2 474.8 65.9C476.2 65.6 478.4 65.2 479.2 65" stroke-width="1.7"/>
<path d="M507.4 84.6C508.1 84.7 510 84.9 511.3 85.2C512.5 85.4 513.8 85.6 515.1 85.9C516.4 86.1 517.6 86.4 518.9 86.8C520.2 87.1 521.5 87.5 522.7 87.9C524 88.3 525.3 88.8 526.5 89.3C527.8 89.7 529.1 90.3 530.3 90.8C531.5 91.4 532.8 92 534 92.7C535.2 93.3 536.4 94 537.6 94.7C538.8 95.5 540 96.2 541.2 97.1C542.3 97.9 543.4 98.7 544.5 99.6C545.7 100.5 546.7 101.5 547.8 102.5C548.8 103.4 549.9 104.5 550.8 105.5C551.8 106.6 552.8 107.7 553.7 108.9C554.6 110 555.4 111.2 556.2 112.4C557.1 113.6 557.8 114.9 558.6 116.2C559.3 117.4 559.9 118.8 560.6 120.1C561.2 121.4 561.7 122.8 562.2 124.2C562.8 125.6 563.2 127 563.6 128.4C564 129.9 564.3 131.3 564.6 132.8C564.8 134.2 565 135.7 565.2 137.2C565.3 138.7 565.4 140.1 565.4 141.6C565.4 143.1 565.4 144.6 565.3 146.1C565.2 147.5 565 149 564.8 150.5C564.5 151.9 564.3 153.4 563.9 154.8C563.6 156.2 563.1 157.6 562.7 159C562.2 160.4 561.7 161.7 561.1 163.1C560.5 164.4 559.9 165.7 559.2 167C558.6 168.3 557.8 169.5 557.1 170.7C556.3 171.9 555.5 173.1 554.7 174.2C553.8 175.4 552.9 176.5 552 177.5C551.1 178.6 550.2 179.6 549.2 180.6C548.2 181.6 547.2 182.5 546.2 183.4C545.1 184.3 544.1 185.2 543 186C542 186.8 540.9 187.6 539.8 188.4C538.7 189.1 537.6 189.8 536.5 190.5C535.3 191.2 534.2 191.8 533.1 192.4C532 193 530.8 193.6 529.7 194.1C528.5 194.7 527.4 195.2 526.3 195.7C525.1 196.2 524 196.6 522.9 197C521.7 197.5 520.6 197.9 519.5 198.3C518.3 198.7 517.2 199 516.1 199.4C514.9 199.7 513.8 200.1 512.7 200.4C511.6 200.7 510.4 201 509.3 201.3C508.2 201.6 507.1 201.9 506 202.2C504.8 202.4 503.7 202.7 502.6 203C501.5 203.2 500.3 203.5 499.2 203.7C498.1 203.9 496.9 204.1 495.8 204.4C494.6 204.6 493.5 204.8 492.3 205C491.1 205.1 490 205.3 488.8 205.5C487.6 205.7 486.4 205.8 485.2 205.9C484 206.1 482.7 206.2 481.5 206.3C480.2 206.4 479 206.4 477.7 206.5C476.5 206.5 475.2 206.5 473.9 206.5C472.6 206.5 471.3 206.5 470 206.4C468.6 206.3 467.3 206.2 466 206.1C464.7 205.9 463.3 205.7 462 205.5C460.6 205.2 459.3 205 457.9 204.6C456.6 204.3 455.2 203.9 453.9 203.5C452.5 203.1 451.2 202.6 449.9 202.1C448.6 201.5 447.3 200.9 446 200.3C444.7 199.7 443.4 199 442.2 198.2C440.9 197.5 439.7 196.7 438.5 195.8C437.3 195 436.2 194 435.1 193.1C434 192.1 432.9 191.1 431.9 190.1C430.9 189 429.9 187.9 428.9 186.7C428 185.6 427.1 184.4 426.3 183.1C425.5 181.9 424.7 180.6 424 179.3C423.3 178 422.7 176.7 422.1 175.3C421.5 174 421 172.6 420.5 171.1C420 169.7 419.6 168.3 419.3 166.9C419 165.4 418.7 163.9 418.5 162.5C418.3 161 418.2 159.5 418.1 158.1C418 156.6 418 155.1 418 153.7C418 152.2 418.1 150.7 418.3 149.3C418.4 147.8 418.6 146.4 418.9 145C419.2 143.5 419.5 142.1 419.8 140.7C420.2 139.3 420.6 138 421.1 136.6C421.5 135.2 422 133.9 422.5 132.6C423.1 131.3 423.7 130 424.3 128.8C424.9 127.5 425.5 126.3 426.2 125.1C426.9 123.9 427.6 122.7 428.3 121.6C429.1 120.4 429.8 119.3 430.6 118.2C431.4 117.1 432.2 116.1 433 115C433.9 114 434.7 113 435.6 112C436.5 111 437.4 110.1 438.3 109.2C439.2 108.2 440.1 107.3 441 106.5C442 105.6 442.9 104.8 443.9 103.9C444.9 103.1 445.9 102.3 446.8 101.6C447.8 100.8 448.8 100.1 449.9 99.4C450.9 98.6 452.4 97.6 452.9 97.3" stroke-width="1.3"/>
<circle cx="516.3" cy="146" r="1.5" stroke-width="1.35"/>
<circle cx="511.6" cy="156.8" r="1.5" stroke-width="1.35"/>
<circle cx="502.7" cy="163" r="1.5" stroke-width="1.35"/>
<circle cx="493.4" cy="165.7" r="1.5" stroke-width="1.35"/>
<circle cx="466.4" cy="152.1" r="1.5" stroke-width="1.35"/>
<circle cx="468.2" cy="140.4" r="1.5" stroke-width="1.35"/>
<circle cx="504" cy="127.1" r="1.5" stroke-width="1.35"/>
<circle cx="513.1" cy="134.4" r="1.5" stroke-width="1.35"/>
<circle cx="523.9" cy="152.2" r="1.5" stroke-width="1.35"/>
<circle cx="517.4" cy="162.3" r="1.5" stroke-width="1.35"/>
<circle cx="508" cy="168.5" r="1.5" stroke-width="1.35"/>
<circle cx="498.3" cy="171.7" r="1.5" stroke-width="1.35"/>
<circle cx="458.9" cy="158.4" r="1.5" stroke-width="1.35"/>
<circle cx="457.8" cy="146" r="1.5" stroke-width="1.35"/>
<circle cx="462.1" cy="134.8" r="1.5" stroke-width="1.35"/>
<circle cx="469.6" cy="126.5" r="1.5" stroke-width="1.35"/>
<circle cx="509.9" cy="121" r="1.5" stroke-width="1.35"/>
<circle cx="519.4" cy="128.4" r="1.5" stroke-width="1.35"/>
<circle cx="524.8" cy="139.7" r="1.5" stroke-width="1.35"/>
<circle cx="534.1" cy="146" r="1.5" stroke-width="1.35"/>
<circle cx="530.6" cy="158.2" r="1.5" stroke-width="1.35"/>
<circle cx="522.9" cy="167.8" r="1.5" stroke-width="1.35"/>
<circle cx="513.3" cy="174" r="1.5" stroke-width="1.35"/>
<circle cx="503.4" cy="177.6" r="1.5" stroke-width="1.35"/>
<circle cx="451.9" cy="164.8" r="1.5" stroke-width="1.35"/>
<circle cx="448.7" cy="152.4" r="1.5" stroke-width="1.35"/>
<circle cx="450.7" cy="139.9" r="1.5" stroke-width="1.35"/>
<circle cx="456.4" cy="129.3" r="1.5" stroke-width="1.35"/>
<circle cx="464.2" cy="121.2" r="1.5" stroke-width="1.35"/>
<circle cx="504.7" cy="111.1" r="1.5" stroke-width="1.35"/>
<circle cx="515.8" cy="115" r="1.5" stroke-width="1.35"/>
<circle cx="525.6" cy="122.4" r="1.5" stroke-width="1.35"/>
<circle cx="532.3" cy="133.3" r="1.5" stroke-width="1.35"/>
<circle cx="542" cy="152.2" r="1.5" stroke-width="1.35"/>
<circle cx="537.1" cy="163.5" r="1.5" stroke-width="1.35"/>
<circle cx="529.3" cy="172.5" r="1.5" stroke-width="1.35"/>
<circle cx="520" cy="178.7" r="1.5" stroke-width="1.35"/>
<circle cx="510.3" cy="182.8" r="1.5" stroke-width="1.35"/>
<circle cx="500.7" cy="185.5" r="1.5" stroke-width="1.35"/>
<circle cx="448.3" cy="175.4" r="1.5" stroke-width="1.35"/>
<circle cx="442" cy="164.6" r="1.5" stroke-width="1.35"/>
<circle cx="439.9" cy="152.2" r="1.5" stroke-width="1.35"/>
<circle cx="441.8" cy="140" r="1.5" stroke-width="1.35"/>
<circle cx="446.9" cy="129.3" r="1.5" stroke-width="1.35"/>
<circle cx="453.9" cy="120.4" r="1.5" stroke-width="1.35"/>
<circle cx="501.6" cy="103" r="1.5" stroke-width="1.35"/>
<circle cx="512.5" cy="105.1" r="1.5" stroke-width="1.35"/>
<circle cx="523.1" cy="109.8" r="1.5" stroke-width="1.35"/>
<circle cx="532.5" cy="117.3" r="1.5" stroke-width="1.35"/>
<circle cx="539.6" cy="127.6" r="1.5" stroke-width="1.35"/>
<circle cx="542.9" cy="139.7" r="1.5" stroke-width="1.35"/>
<circle cx="551.9" cy="146" r="1.5" stroke-width="1.35"/>
<circle cx="549.2" cy="158.4" r="1.5" stroke-width="1.35"/>
<circle cx="543.2" cy="169.2" r="1.5" stroke-width="1.35"/>
<circle cx="534.9" cy="177.9" r="1.5" stroke-width="1.35"/>
<circle cx="525.3" cy="184.1" r="1.5" stroke-width="1.35"/>
<circle cx="515.5" cy="188.5" r="1.5" stroke-width="1.35"/>
<circle cx="505.8" cy="191.4" r="1.5" stroke-width="1.35"/>
<circle cx="442" cy="181.6" r="1.5" stroke-width="1.35"/>
<circle cx="434.9" cy="171" r="1.5" stroke-width="1.35"/>
<circle cx="431.4" cy="158.7" r="1.5" stroke-width="1.35"/>
<circle cx="431.7" cy="146" r="1.5" stroke-width="1.35"/>
<circle cx="435.2" cy="134.1" r="1.5" stroke-width="1.35"/>
<circle cx="441.1" cy="123.8" r="1.5" stroke-width="1.35"/>
<circle cx="448.5" cy="115.1" r="1.5" stroke-width="1.35"/>
<circle cx="507.2" cy="96" r="1.5" stroke-width="1.35"/>
<circle cx="518.3" cy="98.8" r="1.5" stroke-width="1.35"/>
<circle cx="529" cy="103.8" r="1.5" stroke-width="1.35"/>
<circle cx="538.7" cy="111.4" r="1.5" stroke-width="1.35"/>
<circle cx="546.3" cy="121.4" r="1.5" stroke-width="1.35"/>
<circle cx="550.9" cy="133.3" r="1.5" stroke-width="1.35"/>
<circle cx="560" cy="152.2" r="1.5" stroke-width="1.35"/>
<circle cx="556" cy="164" r="1.5" stroke-width="1.35"/>
<circle cx="549.6" cy="174.2" r="1.5" stroke-width="1.35"/>
<circle cx="541.3" cy="182.5" r="1.5" stroke-width="1.35"/>
<circle cx="532" cy="188.9" r="1.5" stroke-width="1.35"/>
<circle cx="522.3" cy="193.4" r="1.5" stroke-width="1.35"/>
<circle cx="512.7" cy="196.8" r="1.5" stroke-width="1.35"/>
<circle cx="503.2" cy="199.3" r="1.5" stroke-width="1.35"/>
<circle cx="439.4" cy="191.1" r="1.5" stroke-width="1.35"/>
<circle cx="430.9" cy="181.9" r="1.5" stroke-width="1.35"/>
<circle cx="425.1" cy="170.7" r="1.5" stroke-width="1.35"/>
<circle cx="422.5" cy="158.4" r="1.5" stroke-width="1.35"/>
<circle cx="423.1" cy="146" r="1.5" stroke-width="1.35"/>
<circle cx="426.3" cy="134.3" r="1.5" stroke-width="1.35"/>
<circle cx="431.6" cy="123.7" r="1.5" stroke-width="1.35"/>
<circle cx="438.4" cy="114.6" r="1.5" stroke-width="1.35"/>
<circle cx="446.2" cy="106.9" r="1.5" stroke-width="1.35"/>
<circle cx="504.2" cy="88.1" r="1.5" stroke-width="1.35"/>
<circle cx="515" cy="89.8" r="1.5" stroke-width="1.35"/>
<circle cx="525.8" cy="93.2" r="1.5" stroke-width="1.35"/>
<circle cx="536.2" cy="98.7" r="1.5" stroke-width="1.35"/>
<circle cx="545.6" cy="106.3" r="1.5" stroke-width="1.35"/>
<circle cx="553.3" cy="116" r="1.5" stroke-width="1.35"/>
<circle cx="558.6" cy="127.3" r="1.5" stroke-width="1.35"/>
<circle cx="560.9" cy="139.7" r="1.5" stroke-width="1.35"/>
<path d="M477 157.5L439.5 199" stroke-width="1.3"/>
<path d="M479.7 160L442.8 201" stroke-width="1"/>
<path d="M483 163L452.5 204.5" stroke-width="1.3"/>
<path d="M483 163C484.5 165.5 496.8 184.8 498.4 187.8C500 190.8 499.5 191.2 498.6 193C497.7 194.8 490.5 204.2 489.6 205.4" stroke-width="1.3"/>
<path d="M476.4 135C475.8 135.7 473.4 137.4 472.5 139C471.6 140.6 471.3 142.8 471.3 144.8C471.3 146.8 471.6 149.1 472.5 151C473.4 152.9 474.8 154.7 476.4 156C478 157.3 479.9 158.3 482 159C484.1 159.7 486.9 160.3 489.2 160.3C491.5 160.3 493.9 159.7 496 159C498.1 158.3 500.2 157.3 502 156C503.8 154.7 505.3 152.9 506.5 151C507.7 149.1 508.9 146.8 509.2 144.8C509.5 142.8 509.2 140.9 508.5 139C507.8 137.1 506.4 135.1 505.2 133.6C503.9 132.1 502.3 130.9 501 130C499.7 129.1 497.8 128.3 497.2 128" stroke-width="1.3"/>
<path d="M476.4 157.5C477.3 158 479.9 159.6 482 160.3C484.1 161 486.9 161.5 489.2 161.5C491.5 161.5 493.8 161 496 160.3C498.2 159.6 500.6 158.6 502.5 157.2C504.4 155.8 506.7 152.9 507.5 152" stroke-width="1.3"/>
<path d="M473.2 117C474.1 120.5 478.6 139.1 479.6 143.2C480.6 147.3 480.3 146.5 481 147.5C481.7 148.5 483.4 150 484.5 150.5C485.6 151 487.9 151.4 489.2 151.4C490.5 151.4 492.8 151 494 150.5C495.2 150 497.3 148.5 498 147.5C498.7 146.5 500.5 147.5 499.6 143.2C498.7 138.9 492.7 118.8 491.6 115" stroke-width="1.3" fill="#fff"/>
<ellipse cx="475.6" cy="104.5" rx="20.3" ry="11.5" transform="rotate(-5 475.6 104.5)" stroke-width="1.3" fill="#fff"/>
<path d="M495.5 101.8C495.5 101.9 495.6 102.3 495.5 102.6C495.5 102.9 495.5 103.2 495.4 103.5C495.4 103.8 495.3 104.1 495.2 104.4C495.1 104.7 495 104.9 494.8 105.2C494.7 105.5 494.6 105.8 494.4 106.1C494.2 106.4 494 106.6 493.8 106.9C493.6 107.2 493.3 107.5 493.1 107.7C492.8 108 492.6 108.3 492.3 108.5C492 108.8 491.7 109 491.4 109.3C491.1 109.5 490.7 109.8 490.4 110C490 110.3 489.6 110.5 489.3 110.7C488.9 110.9 488.5 111.1 488.1 111.3C487.7 111.5 487.3 111.7 486.8 111.9C486.4 112.1 486 112.3 485.5 112.5C485 112.6 484.6 112.8 484.1 113C483.6 113.1 483.2 113.3 482.7 113.4C482.2 113.5 481.7 113.6 481.2 113.7C480.7 113.9 480.2 114 479.7 114.1C479.2 114.1 478.6 114.2 478.1 114.3C477.6 114.4 477.1 114.4 476.6 114.5C476 114.5 475.5 114.5 475 114.6C474.5 114.6 473.9 114.6 473.4 114.6C472.9 114.6 472.4 114.6 471.9 114.6C471.4 114.5 470.9 114.5 470.4 114.5C469.9 114.4 469.4 114.4 468.9 114.3C468.4 114.2 467.9 114.1 467.4 114.1C466.9 114 466.5 113.9 466 113.8C465.5 113.6 465.1 113.5 464.7 113.4C464.2 113.3 463.8 113.1 463.4 113C463 112.8 462.6 112.7 462.2 112.5C461.8 112.3 461.4 112.1 461.1 111.9C460.7 111.8 460.4 111.6 460 111.4C459.7 111.1 459.4 110.9 459.1 110.7C458.8 110.5 458.5 110.3 458.3 110C458 109.8 457.8 109.6 457.6 109.3C457.3 109.1 457.1 108.8 456.9 108.5C456.8 108.3 456.6 108 456.5 107.8C456.3 107.5 456.2 107.2 456.1 106.9C456 106.7 455.9 106.4 455.8 106.1C455.7 105.8 455.7 105.4 455.7 105.2" stroke-width="1.7"/>
<path d="M493.5 100.4C493.5 100.6 493.6 100.9 493.5 101.2C493.5 101.4 493.5 101.7 493.4 101.9C493.4 102.2 493.3 102.4 493.2 102.7C493.1 102.9 493 103.2 492.9 103.4C492.8 103.7 492.6 103.9 492.5 104.2C492.3 104.4 492.1 104.7 492 104.9C491.8 105.1 491.5 105.4 491.3 105.6C491.1 105.8 490.9 106.1 490.6 106.3C490.3 106.5 490.1 106.7 489.8 107C489.5 107.2 489.2 107.4 488.9 107.6C488.5 107.8 488.2 108 487.9 108.2C487.5 108.4 487.2 108.6 486.8 108.7C486.4 108.9 486.1 109.1 485.7 109.2C485.3 109.4 484.9 109.6 484.5 109.7C484.1 109.9 483.7 110 483.2 110.1C482.8 110.3 482.4 110.4 481.9 110.5C481.5 110.6 481 110.7 480.6 110.8C480.1 110.9 479.7 111 479.2 111.1C478.8 111.2 478.3 111.3 477.8 111.3C477.4 111.4 476.9 111.4 476.4 111.5C476 111.5 475.5 111.5 475 111.6C474.5 111.6 474.1 111.6 473.6 111.6C473.1 111.6 472.7 111.6 472.2 111.6C471.8 111.6 471.3 111.5 470.8 111.5C470.4 111.4 469.9 111.4 469.5 111.3C469.1 111.3 468.6 111.2 468.2 111.1C467.8 111.1 467.3 111 466.9 110.9C466.5 110.8 466.1 110.7 465.7 110.6C465.3 110.5 465 110.3 464.6 110.2C464.2 110.1 463.9 109.9 463.5 109.8C463.2 109.7 462.8 109.5 462.5 109.3C462.2 109.2 461.9 109 461.6 108.8C461.3 108.7 461 108.5 460.7 108.3C460.5 108.1 460.2 107.9 460 107.7C459.8 107.5 459.5 107.3 459.4 107.1C459.2 106.9 459 106.6 458.8 106.4C458.6 106.2 458.5 106 458.4 105.7C458.2 105.5 458.1 105.3 458 105C457.9 104.8 457.8 104.6 457.8 104.3C457.7 104.1 457.7 103.7 457.7 103.6" stroke-width="1.3"/>
<path d="M492 99.1C492 99.2 492.1 99.5 492 99.7C492 100 492 100.2 492 100.4C491.9 100.6 491.8 100.9 491.8 101.1C491.7 101.3 491.6 101.5 491.5 101.7C491.3 102 491.2 102.2 491.1 102.4C490.9 102.6 490.8 102.8 490.6 103.1C490.4 103.3 490.2 103.5 490 103.7C489.8 103.9 489.6 104.1 489.3 104.3C489.1 104.5 488.8 104.7 488.6 104.9C488.3 105.1 488 105.3 487.7 105.5C487.5 105.7 487.2 105.8 486.8 106C486.5 106.2 486.2 106.3 485.9 106.5C485.5 106.7 485.2 106.8 484.8 107C484.5 107.1 484.1 107.3 483.7 107.4C483.3 107.5 483 107.7 482.6 107.8C482.2 107.9 481.8 108 481.4 108.1C481 108.2 480.6 108.3 480.2 108.4C479.7 108.5 479.3 108.6 478.9 108.6C478.5 108.7 478.1 108.8 477.6 108.8C477.2 108.9 476.8 108.9 476.3 109C475.9 109 475.5 109 475 109.1C474.6 109.1 474.2 109.1 473.8 109.1C473.3 109.1 472.9 109.1 472.5 109.1C472.1 109.1 471.6 109 471.2 109C470.8 109 470.4 108.9 470 108.9C469.6 108.8 469.2 108.8 468.8 108.7C468.4 108.6 468 108.6 467.6 108.5C467.3 108.4 466.9 108.3 466.5 108.2C466.2 108.1 465.8 108 465.5 107.9C465.1 107.8 464.8 107.6 464.5 107.5C464.2 107.4 463.9 107.2 463.6 107.1C463.3 106.9 463 106.8 462.7 106.6C462.5 106.5 462.2 106.3 462 106.2C461.7 106 461.5 105.8 461.3 105.6C461.1 105.4 460.9 105.3 460.7 105.1C460.5 104.9 460.3 104.7 460.2 104.5C460 104.3 459.9 104.1 459.8 103.9C459.7 103.7 459.6 103.5 459.5 103.2C459.4 103 459.3 102.8 459.3 102.6C459.2 102.4 459.2 102 459.2 101.9" stroke-width="1"/>
<path d="M495.4 105.9C495.3 106 495.2 106.4 495.1 106.6C495 106.9 494.8 107.1 494.7 107.4C494.5 107.6 494.4 107.9 494.2 108.1C494 108.4 493.8 108.6 493.6 108.8C493.4 109.1 493.2 109.3 493 109.5C492.7 109.8 492.5 110 492.3 110.2C492 110.5 491.7 110.7 491.5 110.9C491.2 111.1 490.9 111.3 490.6 111.5C490.3 111.7 490 111.9 489.7 112.1C489.4 112.3 489 112.5 488.7 112.7C488.4 112.9 488 113.1 487.7 113.2C487.3 113.4 487 113.6 486.6 113.7C486.2 113.9 485.8 114 485.5 114.2C485.1 114.3 484.7 114.5 484.3 114.6C483.9 114.7 483.5 114.9 483.1 115C482.6 115.1 482.2 115.2 481.8 115.3C481.4 115.4 481 115.5 480.5 115.6C480.1 115.7 479.7 115.8 479.2 115.8C478.8 115.9 478.4 116 477.9 116C477.5 116.1 477.1 116.1 476.6 116.2C476.2 116.2 475.7 116.2 475.3 116.2C474.8 116.3 474.4 116.3 474 116.3C473.5 116.3 473.1 116.3 472.6 116.3C472.2 116.3 471.8 116.2 471.3 116.2C470.9 116.2 470.5 116.2 470.1 116.1C469.6 116.1 469.2 116 468.8 116C468.4 115.9 468 115.8 467.6 115.7C467.2 115.7 466.8 115.6 466.4 115.5C466 115.4 465.6 115.3 465.2 115.2C464.8 115.1 464.5 115 464.1 114.8C463.7 114.7 463.4 114.6 463 114.5C462.7 114.3 462.3 114.2 462 114C461.7 113.9 461.4 113.7 461.1 113.5C460.8 113.4 460.5 113.2 460.2 113C459.9 112.9 459.6 112.7 459.3 112.5C459.1 112.3 458.8 112.1 458.6 111.9C458.4 111.7 458.1 111.5 457.9 111.3C457.7 111.1 457.5 110.9 457.3 110.7C457.1 110.4 456.9 110.2 456.8 110C456.6 109.8 456.4 109.4 456.3 109.3" stroke-width="2.2"/>
<ellipse cx="477" cy="102.5" rx="16.5" ry="8.2" transform="rotate(-5 477 102.5)" stroke-width="1" fill="#3c3c3c"/>
<path d="M453.6 80.2L485.6 61.8L491.2 65.8L512 53.8L521.8 71.4L501.5 82.8L500 91.4L469.6 106.6L456 93Z" stroke-width="1.3" fill="#fff"/>
<path d="M453.6 80.2L485.6 61.8L499.5 83.5L467.5 98Z" stroke-width="1.3"/>
<path d="M467.5 98L469.6 106.6" stroke-width="1.3"/>
<path d="M499.5 83.5L500 91.4" stroke-width="1"/>
<path d="M456.5 81.5L486 64.5" stroke-width="1"/>
<path d="M491.2 65.8L501.5 82.8" stroke-width="1.3"/>
<path d="M493.2 64.8L503.3 81.8" stroke-width="1"/>
<path d="M457.3 86.5L468.6 102.3L500 87.5" stroke-width="1"/>
<ellipse cx="469.6" cy="82.8" rx="4.8" ry="4.4" transform="rotate(0 469.6 82.8)" stroke-width="1.3"/>
<ellipse cx="469.6" cy="83.2" rx="2.6" ry="2.6" transform="rotate(0 469.6 83.2)" stroke-width="1"/>
<path d="M458.8 82L469.6 95.8L497.5 82.2" stroke-width="1"/>
<path d="M469.6 77L469.6 82.5" stroke-width="1.3"/>
<path d="M238 142.8C238.8 143.6 241.3 145.6 242.5 147.5C243.7 149.4 244.3 151.6 245.2 154C246 156.4 247.2 158.8 247.6 162C248 165.2 247.8 171.2 247.8 173" stroke-width="1"/>
<path d="M237.2 178C237.2 175.3 237 165.2 237.2 162C237.4 158.8 237.8 159.3 238.5 158.5C239.2 157.7 240.3 157 241.2 157C242.1 157 243.3 157.7 244 158.5C244.7 159.3 245.1 159 245.4 162C245.7 165 245.9 174 246 176.4" stroke-width="1.3" fill="#fff"/>
<path d="M237.2 169L245.6 169" stroke-width="1"/>
<path d="M241.3 157.5L241.5 178" stroke-width="1"/>
<path d="M218.8 162L237.2 158.8" stroke-width="1"/>
<path d="M212.4 171.6C213.7 171.2 217.7 168.9 220.4 169C223.1 169.1 226.3 170.6 228.4 172.4C230.5 174.2 232.4 178.4 233.2 179.6" stroke-width="1"/>
<path d="M236 180L174 234" stroke-width="1.3"/>
<path d="M240 184L220 200" stroke-width="1"/>
<path d="M220 200L184 230" stroke-width="1.7"/>
<path d="M106.8 321L152 264L157 257.5" stroke-width="1.3"/>
<path d="M110.5 323.5L152 268" stroke-width="1.7"/>
<path d="M113 275L150 241.5" stroke-width="1.3"/>
<path d="M112 275C111.3 277.5 109 284.8 108 290C107 295.2 106.3 301 106 306C105.7 311 105.8 316.3 106 320C106.2 323.7 106.8 326.7 107 328" stroke-width="1.3"/>
<path d="M114.5 275.5C113.8 278.2 111.4 285.2 110.5 292C109.6 298.8 109.2 312 109 316" stroke-width="1"/>
<path d="M145 233L173 215L174.5 217.5L174 238L160 256L155 254L150 240" stroke-width="1.3" fill="#fff"/>
<path d="M146 235.5L174 218" stroke-width="1"/>
<path d="M162 226.5L162.3 230.5L174 222" stroke-width="1"/>
<path d="M155 254L156.5 237" stroke-width="1"/>
<ellipse cx="155" cy="209.3" rx="15.5" ry="4.8" transform="rotate(-50 155 209.3)" stroke-width="1.4"/>
<ellipse cx="155" cy="209.3" rx="12.2" ry="3.4" transform="rotate(-50 155 209.3)" stroke-width="1.8"/>
<ellipse cx="155" cy="209.3" rx="8" ry="1.7" transform="rotate(-50 155 209.3)" stroke-width="1"/>
<ellipse cx="127.6" cy="248" rx="7.5" ry="2" transform="rotate(-52 127.6 248)" stroke-width="1.3"/>
<ellipse cx="134.2" cy="247.5" rx="6.5" ry="2" transform="rotate(-54 134.2 247.5)" stroke-width="1.3"/>
<circle cx="109.3" cy="371.6" r="0.8" fill="#333" stroke="none"/>
<path d="M201 139.5L213.5 146.5L209.5 158L198.5 151.5Z" stroke-width="1.3" fill="#444"/>
<path d="M202 140.5L199.8 151.5" stroke-width="0.6" stroke="#ddd"/>
<path d="M204.5 141.8L202.2 152.8" stroke-width="0.6" stroke="#ddd"/>
<path d="M207 143.1L204.6 154.1" stroke-width="0.6" stroke="#ddd"/>
<path d="M209.5 144.4L207 155.4" stroke-width="0.6" stroke="#ddd"/>
<path d="M212 145.7L209.4 156.7" stroke-width="0.6" stroke="#ddd"/>
<ellipse cx="197.5" cy="143.3" rx="9.8" ry="3.2" transform="rotate(-50 197.5 143.3)" stroke-width="1.3" fill="#fff"/>
<ellipse cx="197.5" cy="143.3" rx="7" ry="1.6" transform="rotate(-50 197.5 143.3)" stroke-width="1"/>
<ellipse cx="182.3" cy="184.2" rx="15" ry="4.8" transform="rotate(-55 182.3 184.2)" stroke-width="1.5" fill="#fff"/>
<ellipse cx="182.3" cy="184.2" rx="12" ry="3" transform="rotate(-55 182.3 184.2)" stroke-width="1.7"/>
<ellipse cx="182.3" cy="184.2" rx="8" ry="1.3" transform="rotate(-55 182.3 184.2)" stroke-width="1"/>
<ellipse cx="188.2" cy="187.2" rx="7" ry="3.2" transform="rotate(-55 188.2 187.2)" stroke-width="1.3" fill="#444"/>
<ellipse cx="188.2" cy="187.2" rx="4" ry="1.3" transform="rotate(-55 188.2 187.2)" stroke-width="0.7" stroke="#eee"/>
<path d="M168 152L176 141" stroke-width="1.7"/>
<path d="M131.5 231.5L140.5 236L144.5 240.5L135.5 241Z" stroke-width="1.3" fill="#fff"/>
<path d="M140.5 236L146 233.5" stroke-width="1"/>
<path d="M252.6 21.4C256.8 20.8 267.3 17.4 277.8 18C288.3 18.6 306 23.6 315.6 25C325.2 26.4 330 26.9 335.7 26.4C341.4 25.9 347.3 22.7 349.6 22" stroke-width="1"/>
<path d="M301.7 112C304.9 111.6 312 108.9 320.6 109.6C329.2 110.3 343.3 114.5 353.4 116C363.5 117.5 373.4 118.8 381 118.4C388.6 118 396 114.3 399 113.5" stroke-width="1"/>
<path d="M506.5 65.3C511.8 65.1 526.5 63 538 64C549.5 65 564.9 71.2 575.8 71.6C586.7 72 598.9 67.4 603.5 66.6" stroke-width="1"/>
<path d="M480 123C484.6 122.2 495.9 117.5 507.7 118C519.5 118.5 538.4 123.9 550.6 125.8C562.8 127.7 571.6 130.1 580.8 129.6C590 129.1 601.8 124.1 606 123" stroke-width="1"/>
<path d="M472 203.6C474.2 203.1 480.3 201.3 485 200.8C489.7 200.3 493.3 199.6 500 200.4C506.7 201.2 517 204.1 525.4 205.4C533.8 206.7 543.2 208.3 550.6 208C558 207.7 566.4 204.2 569.5 203.4" stroke-width="1"/>
<path d="M338 263C343.5 262.8 360.3 261 370.8 261.8C381.3 262.6 392.8 267 401 268C409.2 269 414.5 268.5 420 268C425.5 267.5 431.7 265.5 434 265" stroke-width="1"/>
<path d="M347.2 421.5C349.8 421 356.7 418.6 363 418.6C369.3 418.6 378 420.4 385 421.5C392 422.6 398.3 424.6 405 425.5C411.7 426.4 419.8 427 425 427C430.2 427 432.9 426.3 436 425.5C439.1 424.7 442.2 422.6 443.5 422" stroke-width="1"/>
<circle cx="173.9" cy="103.3" r="0.7" fill="#555" stroke="none"/>
</g></svg></body></html>
